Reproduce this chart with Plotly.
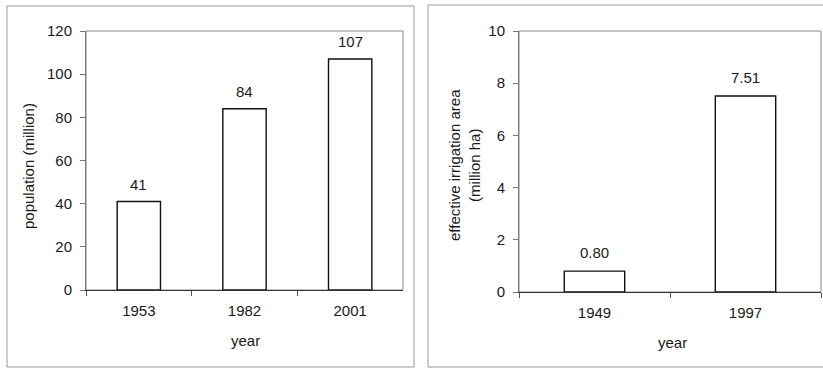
import plotly.graph_objects as go

# Population panel
pop_years = ["1953", "1982", "2001"]
pop_values = [41, 84, 107]
pop_ticks = [0, 20, 40, 60, 80, 100, 120]

# Irrigation panel
irr_years = ["1949", "1997"]
irr_values = [0.80, 7.51]
irr_ticks = [0, 2, 4, 6, 8, 10]

W, H = 823, 368
FONT = "Liberation Sans, Arial, sans-serif"
TXT = "#1a1a1a"
FS = 15


def px(x):
    return x / W


def py(y):
    return 1 - y / H


fig = go.Figure()

fig.add_trace(go.Bar(
    x=pop_years, y=pop_values, width=0.41,
    marker=dict(color="white", line=dict(color="#111", width=1.4)),
    xaxis="x", yaxis="y", showlegend=False, hoverinfo="skip",
))
fig.add_trace(go.Bar(
    x=irr_years, y=irr_values, width=0.40,
    marker=dict(color="white", line=dict(color="#111", width=1.4)),
    xaxis="x2", yaxis="y2", showlegend=False, hoverinfo="skip",
))

xcommon = dict(
    type="category", tickson="boundaries", ticks="outside", ticklen=5,
    tickcolor="#555", showline=True, linecolor="#333", linewidth=1,
    showgrid=False, zeroline=False, ticklabelstandoff=7,
    tickfont=dict(family=FONT, size=FS, color=TXT), fixedrange=True,
    autorange=False, automargin=False,
)
ycommon = dict(
    ticks="outside", ticklen=5, tickcolor="#777", showline=True,
    linecolor="#777", linewidth=1, showgrid=False, zeroline=False,
    ticklabelstandoff=5, tickfont=dict(family=FONT, size=FS, color=TXT),
    fixedrange=True, automargin=False,
)

fig.update_layout(
    width=W, height=H, autosize=False,
    margin=dict(l=0, r=0, t=0, b=0, pad=0, autoexpand=False),
    paper_bgcolor="white", plot_bgcolor="white",
    font=dict(family=FONT, size=FS, color=TXT),
    xaxis=dict(domain=[px(86), px(403)], anchor="y",
               categoryorder="array", categoryarray=pop_years,
               range=[-0.5, len(pop_years) - 0.5], **xcommon),
    yaxis=dict(domain=[py(290), py(31)], anchor="x", range=[0, 120],
               tickvals=pop_ticks, **ycommon),
    xaxis2=dict(domain=[px(519), px(821)], anchor="y2",
                categoryorder="array", categoryarray=irr_years,
                range=[-0.5, len(irr_years) - 0.5], **xcommon),
    yaxis2=dict(domain=[py(292), py(31)], anchor="x2", range=[0, 10],
                tickvals=irr_ticks, **ycommon),
)

shapes = []
# plot-area frames
for xr, yr in (("x domain", "y domain"), ("x2 domain", "y2 domain")):
    shapes.append(dict(type="rect", xref=xr, yref=yr, x0=0, x1=1, y0=0, y1=1,
                       line=dict(color="#888", width=1), layer="below"))
# outer panel frames
shapes.append(dict(type="rect", xref="paper", yref="paper",
                   x0=px(7), x1=px(414), y0=py(367), y1=py(6),
                   line=dict(color="#999", width=1)))
shapes.append(dict(type="rect", xref="paper", yref="paper",
                   x0=px(428), x1=px(840), y0=py(367), y1=py(5),
                   line=dict(color="#999", width=1)))
fig.update_layout(shapes=shapes)

ann = []
for i, v in enumerate(pop_values):
    ann.append(dict(x=i, y=v, xref="x", yref="y", text=f"{v:d}",
                    showarrow=False, xanchor="center", yanchor="bottom",
                    yshift=7, font=dict(family=FONT, size=FS, color=TXT)))
for i, v in enumerate(irr_values):
    ann.append(dict(x=i, y=v, xref="x2", yref="y2", text=f"{v:.2f}",
                    showarrow=False, xanchor="center", yanchor="bottom",
                    yshift=8, font=dict(family=FONT, size=FS, color=TXT)))


def label(x, y, text, angle=0):
    return dict(x=px(x), y=py(y), xref="paper", yref="paper", text=text,
                textangle=angle, showarrow=False, xanchor="center",
                yanchor="middle", font=dict(family=FONT, size=FS, color=TXT))


# axis titles
ann.append(label(28, 166, "population (million)", -90))
ann.append(label(464, 165, "effective irrigation area<br>(million ha)", -90))
ann.append(label(246, 340, "year"))
ann.append(label(672, 342, "year"))
fig.update_layout(annotations=ann)

fig.write_html(
    "out.html",
    config={"displayModeBar": False, "responsive": False},
    post_script="document.body.style.margin='0';"
                "document.body.style.overflow='hidden';",
)
